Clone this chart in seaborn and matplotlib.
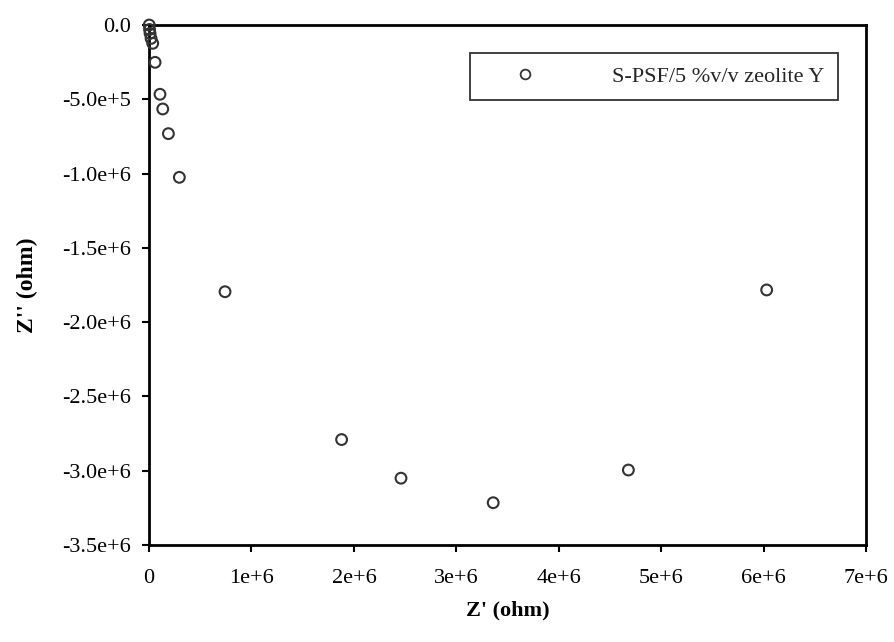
import matplotlib
matplotlib.use("Agg")
import matplotlib.pyplot as plt
import seaborn as sns
import pandas as pd
from matplotlib.lines import Line2D

# Data
z_real = [0.002e6, 0.005e6, 0.010e6, 0.020e6, 0.036e6, 0.059e6, 0.107e6, 0.134e6,
          0.189e6, 0.296e6, 0.742e6, 1.88e6, 2.46e6, 3.36e6, 4.68e6, 6.03e6]
z_imag = [0.0, -0.03e6, -0.056e6, -0.09e6, -0.123e6, -0.251e6, -0.466e6, -0.565e6,
          -0.731e6, -1.025e6, -1.795e6, -2.79e6, -3.05e6, -3.215e6, -2.995e6, -1.783e6]
series_label = "S-PSF/5 %v/v zeolite Y"

x_ticks = [0, 1e6, 2e6, 3e6, 4e6, 5e6, 6e6, 7e6]
x_tick_labels = ["0", "1e+6", "2e+6", "3e+6", "4e+6", "5e+6", "6e+6", "7e+6"]
y_ticks = [0, -0.5e6, -1.0e6, -1.5e6, -2.0e6, -2.5e6, -3.0e6, -3.5e6]
y_tick_labels = ["0.0", "-5.0e+5", "-1.0e+6", "-1.5e+6", "-2.0e+6", "-2.5e+6", "-3.0e+6", "-3.5e+6"]

df = pd.DataFrame({"Z'": z_real, "Z''": z_imag, "series": series_label})

sns.set_theme(style="white")
plt.rcParams["font.family"] = ["Liberation Serif", "DejaVu Serif"]

fig = plt.figure(figsize=(8.94, 6.42), dpi=100)
ax = fig.add_axes([0.1667, 0.151, 0.802, 0.810])

sns.scatterplot(data=df, x="Z'", y="Z''", hue="series", palette=["none"],
                ax=ax, s=60, marker="o", facecolor="none",
                edgecolor="#333333", linewidth=1.5, clip_on=False, zorder=3,
                legend=False)

ax.set_xlim(0, 7e6)
ax.set_ylim(-3.5e6, 0)
ax.set_xticks(x_ticks)
ax.set_xticklabels(x_tick_labels)
ax.set_yticks(y_ticks)
ax.set_yticklabels(y_tick_labels)
ax.tick_params(axis="both", direction="out", length=5, width=1.5, color="black",
               labelsize=16, labelcolor="black", bottom=True, left=True)
ax.tick_params(axis="x", pad=12)
ax.tick_params(axis="y", pad=8)

for sp in ax.spines.values():
    sp.set_visible(True)
    sp.set_color("black")
    sp.set_linewidth(2.0)

ax.set_xlabel("Z' (ohm)", fontsize=16, fontweight="bold", labelpad=9, color="black")
ax.set_ylabel("Z'' (ohm)", fontsize=17, fontweight="bold", labelpad=17, color="black")
ax.grid(False)

h = [Line2D([], [], marker="o", linestyle="none", markerfacecolor="none",
            markeredgecolor="#333333", markersize=7, markeredgewidth=1.3)]
leg = ax.legend(h, [series_label], loc="upper right", bbox_to_anchor=(0.961, 0.946),
                fontsize=16, frameon=True, fancybox=False, edgecolor="black",
                borderpad=0.6, handlelength=3.7, handletextpad=2.1, borderaxespad=0)
leg.get_frame().set_linewidth(1.3)

fig.savefig("out.png", dpi=100, facecolor="white")
